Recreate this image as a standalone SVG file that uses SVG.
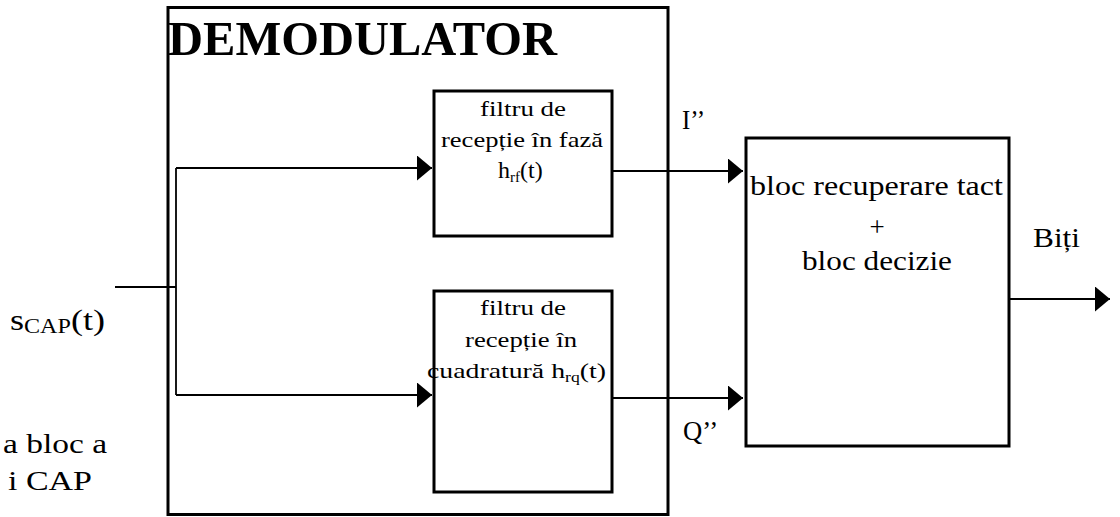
<svg xmlns="http://www.w3.org/2000/svg" width="1120" height="517" viewBox="0 0 1120 517">
<defs>
<style>
.box{fill:#fff;stroke:#000;stroke-width:3}
.ln{fill:none;stroke:#000;stroke-width:1.8}
.t{fill:#000}
</style>
<marker id="ah" markerUnits="userSpaceOnUse" markerWidth="16" markerHeight="26" refX="15" refY="12.5" orient="auto">
<path d="M0,0 L15,12.5 L0,25 Z" fill="#000"/>
</marker>
</defs>
<rect width="1120" height="517" fill="#fff"/>
<g font-family="Liberation Serif, Times New Roman, Tinos, serif">
<g id="demodulator">
<rect class="box" x="168" y="7.5" width="500" height="507"/>
<text class="t" x="168" y="55" font-size="48" font-weight="bold" textLength="389" lengthAdjust="spacingAndGlyphs">DEMODULATOR</text>
</g>
<g id="filtru-faza">
<rect class="box" x="434" y="91" width="178" height="145"/>
<text class="t" x="480" y="116" font-size="22" textLength="86" lengthAdjust="spacingAndGlyphs">filtru de</text>
<text class="t" x="441" y="147" font-size="22" textLength="162" lengthAdjust="spacingAndGlyphs">recepție în fază</text>
<text class="t" x="498" y="178" font-size="24">h<tspan font-size="15" dy="4">rf</tspan><tspan dy="-4">(t)</tspan></text>
</g>
<g id="filtru-cuadratura">
<rect class="box" x="434" y="291" width="178" height="201"/>
<text class="t" x="480" y="315" font-size="22" textLength="86" lengthAdjust="spacingAndGlyphs">filtru de</text>
<text class="t" x="465" y="347" font-size="22" textLength="112" lengthAdjust="spacingAndGlyphs">recepție în</text>
<text class="t" x="427" y="378" font-size="22" textLength="179" lengthAdjust="spacingAndGlyphs">cuadratură h<tspan font-size="14" dy="4">rq</tspan><tspan dy="-4">(t)</tspan></text>
</g>
<g id="bloc-decizie">
<rect class="box" x="746" y="138" width="263" height="308"/>
<text class="t" x="750" y="195" font-size="27" textLength="253" lengthAdjust="spacingAndGlyphs">bloc recuperare tact</text>
<text class="t" x="877" y="236" font-size="27" text-anchor="middle">+</text>
<text class="t" x="802" y="270" font-size="27" textLength="150" lengthAdjust="spacingAndGlyphs">bloc decizie</text>
</g>
<g id="connectors">
<path class="ln" d="M115,287 H176"/>
<path class="ln" d="M176,168 V395"/>
<path class="ln" d="M176,168 H432" marker-end="url(#ah)"/>
<path class="ln" d="M176,395 H432" marker-end="url(#ah)"/>
<path class="ln" d="M613,171 H743" marker-end="url(#ah)"/>
<path class="ln" d="M613,398 H743" marker-end="url(#ah)"/>
<path class="ln" d="M1010,299 H1110" marker-end="url(#ah)"/>
</g>
<g id="labels">
<text class="t" x="682" y="129" font-size="28" textLength="23" lengthAdjust="spacingAndGlyphs">I’’</text>
<text class="t" x="683" y="440" font-size="28" textLength="35" lengthAdjust="spacingAndGlyphs">Q’’</text>
<text class="t" x="1033" y="247" font-size="28" textLength="47" lengthAdjust="spacingAndGlyphs">Biți</text>
<text class="t" x="10" y="330" font-size="30" textLength="95" lengthAdjust="spacingAndGlyphs">s<tspan font-size="20" dy="3">CAP</tspan><tspan dy="-3">(t)</tspan></text>
<text class="t" x="3" y="453" font-size="28" textLength="104" lengthAdjust="spacingAndGlyphs">a bloc a</text>
<text class="t" x="8" y="490" font-size="28" textLength="84" lengthAdjust="spacingAndGlyphs">i CAP</text>
</g>
</g>
</svg>
